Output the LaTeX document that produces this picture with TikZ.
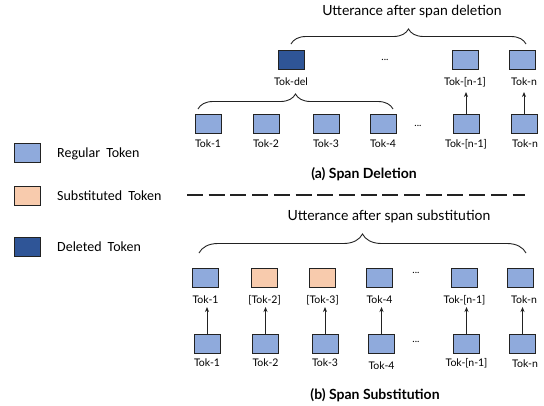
\documentclass[tikz,border=0pt]{standalone}
\usepackage{fontspec}
\setmainfont{Lato}
\newfontfamily\legfont{Carlito}
\usetikzlibrary{decorations.pathreplacing,arrows.meta}
\definecolor{regc}{HTML}{8FAADC}
\definecolor{subc}{HTML}{F8CBAD}
\definecolor{delc}{HTML}{2F5597}
\definecolor{edgec}{HTML}{222222}
\begin{document}
\begin{tikzpicture}[x=1pt,y=1pt,
  tokbox/.style={draw=edgec,line width=0.9pt,minimum width=26pt,minimum height=19pt,inner sep=0pt},
  reg/.style={tokbox,fill=regc},
  sub/.style={tokbox,fill=subc},
  del/.style={tokbox,fill=delc},
  lab/.style={font=\fontsize{10.5}{11}\selectfont,inner sep=1pt},
  dots/.style={font=\fontsize{10}{11}\selectfont,inner sep=0pt},
  title/.style={font=\fontsize{14}{16}\selectfont,inner sep=0pt},
  captext/.style={font=\bfseries\fontsize{14}{16}\selectfont,inner sep=0pt},
  leg/.style={font=\legfont\fontsize{14}{16}\selectfont,anchor=west,inner sep=0pt},
  brc/.style={decorate,decoration={brace,amplitude=#1},line width=0.9pt,draw=edgec},
  arr/.style={-{Stealth[length=5pt,width=4pt]},line width=0.9pt,draw=edgec}
]
\useasboundingbox (0,0) rectangle (544,-405);

% ---------- (a) Span Deletion ----------
\node[title] (tA) at (412,-12) {Utterance after span deletion};
\coordinate (bA1) at (291,-44);
\coordinate (bA2) at (526,-44);
\draw[brc=15pt] (bA1) -- (bA2);

\node[del] (atdel) at (291,-60) {};
\node[reg] (atn1) at (465,-60) {};
\node[reg] (atn) at (522,-60) {};
\node[lab] (latdel) at (291,-82) {Tok-del};
\node[lab] (latn1) at (465,-82) {Tok-[n-1]};
\node[lab] (latn) at (524,-82) {Tok-n};
\node[dots] (adots1) at (385,-60) {...};

\coordinate (bB1) at (198,-109);
\coordinate (bB2) at (393,-109);
\draw[brc=15pt] (bB1) -- (bB2);

\node[reg] (ab1) at (208,-124) {};
\node[reg] (ab2) at (266,-124) {};
\node[reg] (ab3) at (326,-124) {};
\node[reg] (ab4) at (383,-124) {};
\node[reg] (abn1) at (466,-124) {};
\node[reg] (abn) at (524,-124) {};
\node[dots] (adots2) at (418,-126) {...};
\node[lab] (lab1) at (208,-144) {Tok-1};
\node[lab] (lab2) at (266,-144) {Tok-2};
\node[lab] (lab3) at (326,-144) {Tok-3};
\node[lab] (lab4) at (383,-144) {Tok-4};
\node[lab] (labn1) at (466,-144) {Tok-[n-1]};
\node[lab] (labn) at (525,-144) {Tok-n};

\coordinate (ta1) at (466,-92);
\coordinate (ta2) at (524,-92);
\draw[arr] (abn1.north) -- (ta1);
\draw[arr] (abn.north) -- (ta2);

\node[captext] (capA) at (364,-174) {(a) Span Deletion};

% ---------- separator ----------
\coordinate (sep1) at (187,-195);
\coordinate (sep2) at (525,-195);
\draw[line width=1.8pt,draw=edgec,dash pattern=on 16pt off 5.7pt] (sep1) -- (sep2);

% ---------- legend ----------
\node[reg] (lg1) at (27,-153) {};
\node[leg] (lgt1) at (57,-154) {Regular\hspace{6pt}Token};
\node[sub] (lg2) at (27,-196) {};
\node[leg] (lgt2) at (57,-196) {Substituted\hspace{6pt}Token};
\node[del] (lg3) at (27,-247) {};
\node[leg] (lgt3) at (57,-247) {Deleted\hspace{6pt}Token};

% ---------- (b) Span Substitution ----------
\node[title] (tB) at (389,-217) {Utterance after span substitution};
\coordinate (bC1) at (199,-253);
\coordinate (bC2) at (526,-253);
\draw[brc=19pt] (bC1) -- (bC2);

\node[reg] (bt1) at (205.5,-277.5) {};
\node[sub] (bt2) at (264.5,-277.5) {};
\node[sub] (bt3) at (322.5,-277.5) {};
\node[reg] (bt4) at (379.5,-277.5) {};
\node[reg] (btn1) at (464.5,-277.5) {};
\node[reg] (btn) at (520.5,-277.5) {};
\node[dots] (bdots1) at (416,-273) {...};
\node[lab] (lbt1) at (205.5,-300) {Tok-1};
\node[lab] (lbt2) at (264.5,-300) {[Tok-2]};
\node[lab] (lbt3) at (322.5,-300) {[Tok-3]};
\node[lab] (lbt4) at (379.5,-300) {Tok-4};
\node[lab] (lbtn1) at (464.5,-300) {Tok-[n-1]};
\node[lab] (lbtn) at (524,-300) {Tok-n};

\node[reg] (bb1) at (207,-344) {};
\node[reg] (bb2) at (265.5,-344) {};
\node[reg] (bb3) at (325,-344) {};
\node[reg] (bb4) at (381.5,-344) {};
\node[reg] (bbn1) at (466.5,-344) {};
\node[reg] (bbn) at (522.5,-344) {};
\node[dots] (bdots2) at (416,-342) {...};
\node[lab] (lbb1) at (207,-363) {Tok-1};
\node[lab] (lbb2) at (265.5,-363) {Tok-2};
\node[lab] (lbb3) at (325,-363) {Tok-3};
\node[lab] (lbb4) at (381.5,-366) {Tok-4};
\node[lab] (lbbn1) at (466.5,-363) {Tok-[n-1]};
\node[lab] (lbbn) at (525,-364) {Tok-n};

\coordinate (tp1) at (207,-307);
\coordinate (tp2) at (265.5,-307);
\coordinate (tp3) at (325,-307);
\coordinate (tp4) at (381.5,-307);
\coordinate (tpn1) at (466.5,-307);
\coordinate (tpn) at (522.5,-307);
\draw[arr] (bb1.north) -- (tp1);
\draw[arr] (bb2.north) -- (tp2);
\draw[arr] (bb3.north) -- (tp3);
\draw[arr] (bb4.north) -- (tp4);
\draw[arr] (bbn1.north) -- (tpn1);
\draw[arr] (bbn.north) -- (tpn);

\node[captext] (capB) at (375,-395) {(b) Span Substitution};
\end{tikzpicture}
\end{document}
